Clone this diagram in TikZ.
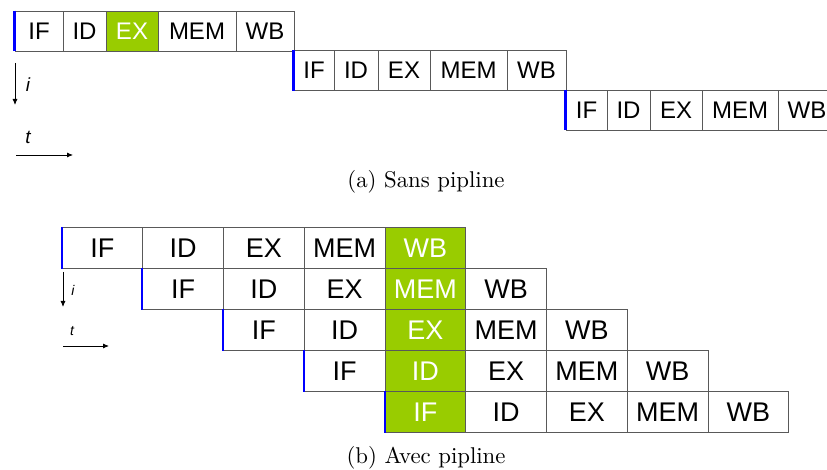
\documentclass[tikz,border=0pt]{standalone}
\usepackage{fontspec}
\newfontfamily\cellfont{Liberation Sans}
\newfontfamily\capfont{lmroman10-regular}[Extension=.otf]
\usetikzlibrary{arrows.meta}
\definecolor{pgreen}{RGB}{153,204,0}
\definecolor{pblue}{RGB}{0,0,255}
\tikzset{
  cell/.style={draw=black!65, line width=0.8pt, rectangle, inner sep=0pt, text=black},
  topcell/.style={cell, minimum height=40pt, font=\cellfont\fontsize{24}{24}\selectfont, text height=17pt, text depth=0pt},
  botcell/.style={cell, minimum width=80.75pt, minimum height=41pt, font=\cellfont\fontsize{27}{27}\selectfont, text height=19.3pt, text depth=0pt},
  hot/.style={fill=pgreen, text=white},
  startbar/.style={draw=pblue, line width=2.5pt},
  startbarb/.style={draw=pblue, line width=1.8pt},
  axis/.style={-{Latex[length=6pt,width=5pt]}, line width=0.8pt},
  axlabel/.style={font=\cellfont\itshape\fontsize{19}{19}\selectfont},
  smalllabel/.style={font=\cellfont\itshape\fontsize{14}{14}\selectfont},
  captext/.style={font=\capfont\fontsize{22.8}{26}\selectfont}
}
\begin{document}
\begin{tikzpicture}[x=1pt,y=-1pt]
\clip (0,0) rectangle (827,470);
\fill[white] (0,0) rectangle (827,470);
% ---------- (a) Sans pipline ----------
% row 1
\node[topcell, minimum width=48pt] (a1-1) at (39,31) {IF};
\node[topcell, minimum width=43pt] (a1-2) at (84.5,31) {ID};
\node[topcell, hot, minimum width=52pt] (a1-3) at (132,31) {EX};
\node[topcell, minimum width=78pt] (a1-4) at (197,31) {MEM};
\node[topcell, minimum width=58pt] (a1-5) at (265,31) {WB};
% row 2
\node[topcell, minimum width=40pt] (a2-1) at (314,70.5) {IF};
\node[topcell, minimum width=44pt] (a2-2) at (356,70.5) {ID};
\node[topcell, minimum width=52pt] (a2-3) at (404,70.5) {EX};
\node[topcell, minimum width=77pt] (a2-4) at (468.5,70.5) {MEM};
\node[topcell, minimum width=59pt] (a2-5) at (536.5,70.5) {WB};
% row 3
\node[topcell, minimum width=41pt] (a3-1) at (586.5,110) {IF};
\node[topcell, minimum width=43pt] (a3-2) at (628.5,110) {ID};
\node[topcell, minimum width=52pt] (a3-3) at (676,110) {EX};
\node[topcell, minimum width=76pt] (a3-4) at (740,110) {MEM};
\node[topcell, minimum width=58pt] (a3-5) at (807,110) {WB};
\foreach \r in {1,2,3}{
  \draw[startbar] (a\r-1.north west) -- (a\r-1.south west);
}
% axes (a)
\coordinate (ai0) at (15,63);
\coordinate (ai1) at (15,105);
\draw[axis] (ai0) -- (ai1);
\node[axlabel] (ailab) at (28,85) {i};
\coordinate (at0) at (16,155);
\coordinate (at1) at (73,155);
\draw[axis] (at0) -- (at1);
\node[axlabel] (atlab) at (28,137) {t};
\node[captext] (capa) at (426,182) {(a) Sans pipline};
% ---------- (b) Avec pipline ----------
\foreach \r/\names in {1/{IF,ID,EX,MEM,WB},2/{IF,ID,EX,MEM,WB},3/{IF,ID,EX,MEM,WB},4/{IF,ID,EX,MEM,WB},5/{IF,ID,EX,MEM,WB}}{
  \foreach \n [count=\k] in \names {
    \pgfmathsetmacro{\col}{\r+\k-2}
    \pgfmathsetmacro{\cx}{62+80.75*\col+40.375}
    \pgfmathsetmacro{\cy}{227.5+41*(\r-1)+20.5}
    \pgfmathtruncatemacro{\ishot}{\col==4 ? 1 : 0}
    \ifnum\ishot=1
      \node[botcell, hot] (b\r-\k) at (\cx,\cy) {\n};
    \else
      \node[botcell] (b\r-\k) at (\cx,\cy) {\n};
    \fi
  }
  \draw[startbarb] (b\r-1.north west) -- (b\r-1.south west);
}
% axes (b)
\coordinate (bi0) at (63,272);
\coordinate (bi1) at (63,307);
\draw[axis] (bi0) -- (bi1);
\node[smalllabel] (bilab) at (73,290) {i};
\coordinate (bt0) at (63,346);
\coordinate (bt1) at (109,346);
\draw[axis] (bt0) -- (bt1);
\node[smalllabel] (btlab) at (72,331) {t};
\node[captext] (capb) at (426,458) {(b) Avec pipline};
\end{tikzpicture}
\end{document}
